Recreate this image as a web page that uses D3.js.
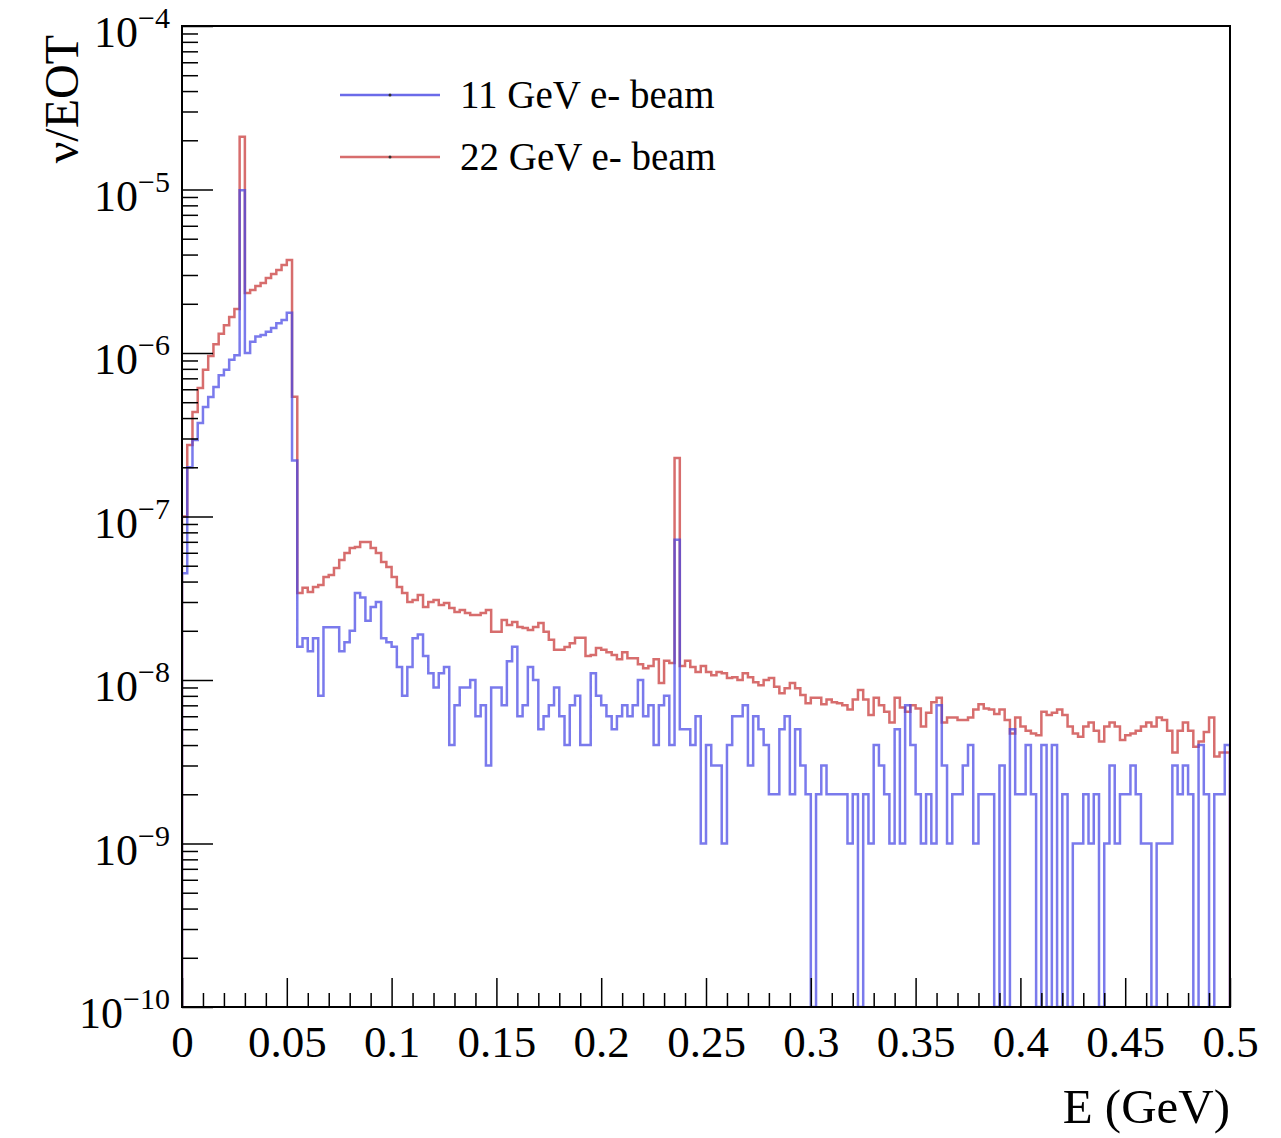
<!DOCTYPE html>
<html>
<head>
<meta charset="utf-8">
<script src="https://cdn.jsdelivr.net/npm/d3@7"></script>
<style>
  body { margin: 0; background: #fff; }
  text { font-family: "Liberation Serif", "Times New Roman", serif; fill: #000; }
</style>
</head>
<body>
<div id="chart"></div>
<script>
// Neutrino flux per EOT, 200 bins of 0.0025 GeV from 0 to 0.5 GeV
const blue11 = [
  4.5e-8, 2.0e-7, 2.94e-7, 3.73e-7, 4.68e-7, 5.38e-7, 6.2e-7, 7.3e-7, 7.9e-7, 9.1e-7,
  9.7e-7, 9.9e-6, 1.0e-6, 1.17e-6, 1.26e-6, 1.29e-6, 1.35e-6, 1.42e-6, 1.52e-6, 1.59e-6,
  1.76e-6, 2.2e-7, 16e-9, 18e-9, 15e-9, 18e-9, 8e-9, 21e-9, 21e-9, 21e-9,
  15e-9, 17e-9, 20e-9, 34e-9, 32e-9, 23e-9, 28e-9, 30e-9, 18e-9, 17e-9,
  16e-9, 12e-9, 8e-9, 12e-9, 18e-9, 19e-9, 14e-9, 11e-9, 9e-9, 11e-9,
  12e-9, 4e-9, 7e-9, 9e-9, 9e-9, 10e-9, 6e-9, 7e-9, 3e-9, 9e-9,
  9e-9, 7e-9, 13e-9, 16e-9, 6e-9, 7e-9, 12e-9, 10e-9, 5e-9, 6e-9,
  7e-9, 9e-9, 6e-9, 4e-9, 7e-9, 8e-9, 4e-9, 4e-9, 11e-9, 8e-9,
  7e-9, 6e-9, 5e-9, 6e-9, 7e-9, 6e-9, 7e-9, 10e-9, 6e-9, 7e-9,
  4e-9, 7e-9, 8e-9, 4e-9, 72e-9, 5e-9, 5e-9, 4e-9, 6e-9, 1e-9,
  4e-9, 3e-9, 3e-9, 1e-9, 4e-9, 6e-9, 6e-9, 7e-9, 3e-9, 6e-9,
  5e-9, 4e-9, 2e-9, 2e-9, 5e-9, 6e-9, 2e-9, 5e-9, 3e-9, 2e-9,
  0, 2e-9, 3e-9, 2e-9, 2e-9, 2e-9, 2e-9, 1e-9, 2e-9, 0,
  2e-9, 1e-9, 4e-9, 3e-9, 2e-9, 1e-9, 5e-9, 1e-9, 7e-9, 4e-9,
  2e-9, 1e-9, 2e-9, 1e-9, 7e-9, 3e-9, 1e-9, 2e-9, 2e-9, 3e-9,
  4e-9, 1e-9, 2e-9, 2e-9, 2e-9, 0, 3e-9, 0, 5e-9, 2e-9,
  2e-9, 4e-9, 2e-9, 0, 4e-9, 0, 4e-9, 0, 2e-9, 0,
  1e-9, 1e-9, 2e-9, 1e-9, 2e-9, 0, 1e-9, 3e-9, 1e-9, 2e-9,
  2e-9, 3e-9, 2e-9, 1e-9, 1e-9, 0, 1e-9, 1e-9, 1e-9, 3e-9,
  2e-9, 3e-9, 2e-9, 0, 4e-9, 2e-9, 0, 2e-9, 2e-9, 4e-9
];
const red22 = [
  1.0e-7, 2.74e-7, 4.36e-7, 6.1e-7, 7.9e-7, 9.6e-7, 1.13e-6, 1.31e-6, 1.48e-6, 1.66e-6,
  1.86e-6, 2.1e-5, 2.33e-6, 2.43e-6, 2.57e-6, 2.68e-6, 2.88e-6, 3.04e-6, 3.22e-6, 3.45e-6,
  3.71e-6, 5.4e-7, 3.40e-8, 3.66e-8, 3.45e-8, 3.71e-8, 3.81e-8, 4.27e-8, 4.39e-8, 4.84e-8,
  5.42e-8, 5.98e-8, 6.41e-8, 6.50e-8, 6.98e-8, 6.98e-8, 6.41e-8, 5.98e-8, 5.27e-8, 4.91e-8,
  4.27e-8, 3.71e-8, 3.40e-8, 3.00e-8, 3.09e-8, 3.31e-8, 2.80e-8, 3.00e-8, 3.09e-8, 2.88e-8,
  2.96e-8, 2.76e-8, 2.61e-8, 2.68e-8, 2.57e-8, 2.50e-8, 2.50e-8, 2.57e-8, 2.68e-8, 1.97e-8,
  1.97e-8, 2.33e-8, 2.17e-8, 2.26e-8, 2.11e-8, 2.08e-8, 2.02e-8, 2.11e-8, 2.23e-8, 1.97e-8,
  1.76e-8, 1.53e-8, 1.53e-8, 1.59e-8, 1.68e-8, 1.81e-8, 1.81e-8, 1.40e-8, 1.42e-8, 1.57e-8,
  1.53e-8, 1.48e-8, 1.42e-8, 1.34e-8, 1.48e-8, 1.36e-8, 1.36e-8, 1.25e-8, 1.18e-8, 1.22e-8,
  1.34e-8, 9.6e-9, 1.31e-8, 1.27e-8, 2.28e-7, 1.22e-8, 1.31e-8, 1.20e-8, 1.12e-8, 1.22e-8,
  1.12e-8, 1.07e-8, 1.12e-8, 1.10e-8, 1.03e-8, 1.04e-8, 1.00e-8, 1.10e-8, 1.04e-8, 9.7e-9,
  9.3e-9, 1.00e-8, 1.03e-8, 9.1e-9, 8.3e-9, 8.9e-9, 9.6e-9, 8.9e-9, 8.1e-9, 7.2e-9,
  7.8e-9, 7.8e-9, 7.1e-9, 7.6e-9, 7.3e-9, 7.2e-9, 7.0e-9, 6.6e-9, 7.6e-9, 8.7e-9,
  7.6e-9, 6.1e-9, 7.8e-9, 7.0e-9, 6.4e-9, 5.5e-9, 7.8e-9, 6.8e-9, 6.4e-9, 7.0e-9,
  6.7e-9, 5.2e-9, 6.3e-9, 7.3e-9, 7.8e-9, 5.5e-9, 5.9e-9, 5.9e-9, 5.7e-9, 5.7e-9,
  5.9e-9, 6.6e-9, 7.1e-9, 6.7e-9, 6.6e-9, 6.2e-9, 6.6e-9, 5.7e-9, 4.7e-9, 5.9e-9,
  5.2e-9, 4.9e-9, 4.7e-9, 4.6e-9, 6.4e-9, 6.1e-9, 6.3e-9, 6.6e-9, 6.1e-9, 5.2e-9,
  4.7e-9, 4.5e-9, 5.2e-9, 5.5e-9, 4.9e-9, 4.2e-9, 5.2e-9, 5.5e-9, 5.2e-9, 4.3e-9,
  4.6e-9, 4.7e-9, 4.9e-9, 5.2e-9, 5.5e-9, 5.2e-9, 5.9e-9, 5.7e-9, 4.9e-9, 3.6e-9,
  4.9e-9, 5.5e-9, 4.9e-9, 3.9e-9, 4.2e-9, 4.8e-9, 5.9e-9, 3.4e-9, 3.6e-9, 3.6e-9
];

const xMajorTicks = [0, 0.05, 0.1, 0.15, 0.2, 0.25, 0.3, 0.35, 0.4, 0.45, 0.5];
const xTickLabels = ["0", "0.05", "0.1", "0.15", "0.2", "0.25", "0.3", "0.35", "0.4", "0.45", "0.5"];
const yDecades = [-10, -9, -8, -7, -6, -5, -4];
const legendLabels = ["11 GeV e- beam", "22 GeV e- beam"];

// 1: FRAME AND SCALES
const W = 1281, H = 1138;
const plot = { left: 182, right: 1230, top: 26, bottom: 1007 };

const svg = d3.select("#chart").append("svg")
    .attr("width", W)
    .attr("height", H);

const xScale = d3.scaleLinear().domain([0, 0.5]).range([plot.left, plot.right]);
const yScale = d3.scaleLog().domain([1e-10, 1e-4]).range([plot.bottom, plot.top]);

const colors = { blue: "rgb(70,70,228)", red: "rgb(205,72,72)" };

svg.append("clipPath").attr("id", "clip")
    .append("rect")
    .attr("x", plot.left).attr("y", plot.top)
    .attr("width", plot.right - plot.left).attr("height", plot.bottom - plot.top);

// 2: HISTOGRAMS (step outline, empty bins drop to the floor)
const binWidth = 0.5 / red22.length;
function stepPoints(values) {
    const pts = [[0, 1e-10]];
    values.forEach((v, i) => {
        const c = Math.max(v, 1e-10);
        pts.push([i * binWidth, c]);
        pts.push([(i + 1) * binWidth, c]);
    });
    pts.push([0.5, 1e-10]);
    return pts;
}
const histLine = d3.line()
    .x(d => xScale(d[0]))
    .y(d => yScale(d[1]));

const hists = svg.append("g").attr("clip-path", "url(#clip)");
hists.append("path")
    .attr("d", histLine(stepPoints(red22)))
    .style("fill", "none")
    .style("stroke", colors.red)
    .style("stroke-opacity", 0.8)
    .style("stroke-width", 2.5);
hists.append("path")
    .attr("d", histLine(stepPoints(blue11)))
    .style("fill", "none")
    .style("stroke", colors.blue)
    .style("stroke-opacity", 0.72)
    .style("stroke-width", 2.5);

// 3: AXES (ticks inside the frame, ROOT style)
const xMinor = d3.range(0, 51).map(k => k / 100).filter(v => Math.round(v * 100) % 5 !== 0);
svg.append("g")
    .attr("transform", `translate(0,${plot.bottom})`)
    .call(d3.axisBottom(xScale).tickValues(xMinor).tickSize(-14).tickFormat(""))
    .call(g => g.select(".domain").remove())
    .selectAll("line").style("stroke-width", 1.5);

const xAxis = svg.append("g")
    .attr("transform", `translate(0,${plot.bottom})`)
    .call(d3.axisBottom(xScale).tickValues(xMajorTicks).tickSize(-29).tickPadding(0)
        .tickFormat((d, i) => xTickLabels[i]))
    .call(g => g.select(".domain").remove());
xAxis.selectAll("line").style("stroke-width", 1.5);
xAxis.selectAll("text")
    .attr("y", 50)
    .attr("dy", 0)
    .style("font-family", "Liberation Serif")
    .style("font-size", "45px");

const yMinor = [];
yDecades.slice(0, -1).forEach(d => {
    for (let k = 2; k <= 9; k++) yMinor.push(k * Math.pow(10, d));
});
svg.append("g")
    .attr("transform", `translate(${plot.left},0)`)
    .call(d3.axisLeft(yScale).tickValues(yMinor).tickSize(-16).tickFormat(""))
    .call(g => g.select(".domain").remove())
    .selectAll("line").style("stroke-width", 1.5);
svg.append("g")
    .attr("transform", `translate(${plot.left},0)`)
    .call(d3.axisLeft(yScale).tickValues(yDecades.map(d => Math.pow(10, d))).tickSize(-31).tickFormat(""))
    .call(g => g.select(".domain").remove())
    .selectAll("line").style("stroke-width", 1.5);

// decade labels 10^n
const yLab = svg.append("g").selectAll("text")
    .data(yDecades)
    .enter()
    .append("text")
    .attr("x", 170)
    .attr("y", d => yScale(Math.pow(10, d)) + 21)
    .attr("text-anchor", "end")
    .style("font-size", "44px");
yLab.append("tspan").text("10");
yLab.append("tspan")
    .attr("dy", -19)
    .style("font-size", "30px")
    .text(d => "\u2212" + Math.abs(d));

// frame
svg.append("rect")
    .attr("x", plot.left).attr("y", plot.top)
    .attr("width", plot.right - plot.left).attr("height", plot.bottom - plot.top)
    .style("fill", "none")
    .style("stroke", "#000")
    .style("stroke-width", 2);

// 4: AXIS TITLES
svg.append("text")
    .attr("x", plot.right)
    .attr("y", 1123)
    .attr("text-anchor", "end")
    .style("font-size", "49px")
    .text("E (GeV)");

svg.append("text")
    .attr("transform", `translate(78,35) rotate(-90)`)
    .attr("text-anchor", "end")
    .style("font-size", "48px")
    .text("\u03bd/EOT");

// 5: LEGEND
const legend = svg.selectAll(".legend")
    .data(legendLabels)
    .enter()
    .append("g")
    .attr("class", "legend")
    .attr("transform", (d, i) => `translate(340, ${95 + i * 62})`);
legend.append("line")
    .attr("x1", 0).attr("x2", 100)
    .style("stroke", (d, i) => i === 0 ? colors.blue : colors.red)
    .style("stroke-opacity", 0.8)
    .style("stroke-width", 2.5);
legend.append("circle")
    .attr("cx", 50).attr("r", 1.5)
    .style("fill", "#333");
legend.append("text")
    .attr("x", 120)
    .attr("y", 13)
    .style("font-size", "39px")
    .text(d => d);
</script>
</body>
</html>
